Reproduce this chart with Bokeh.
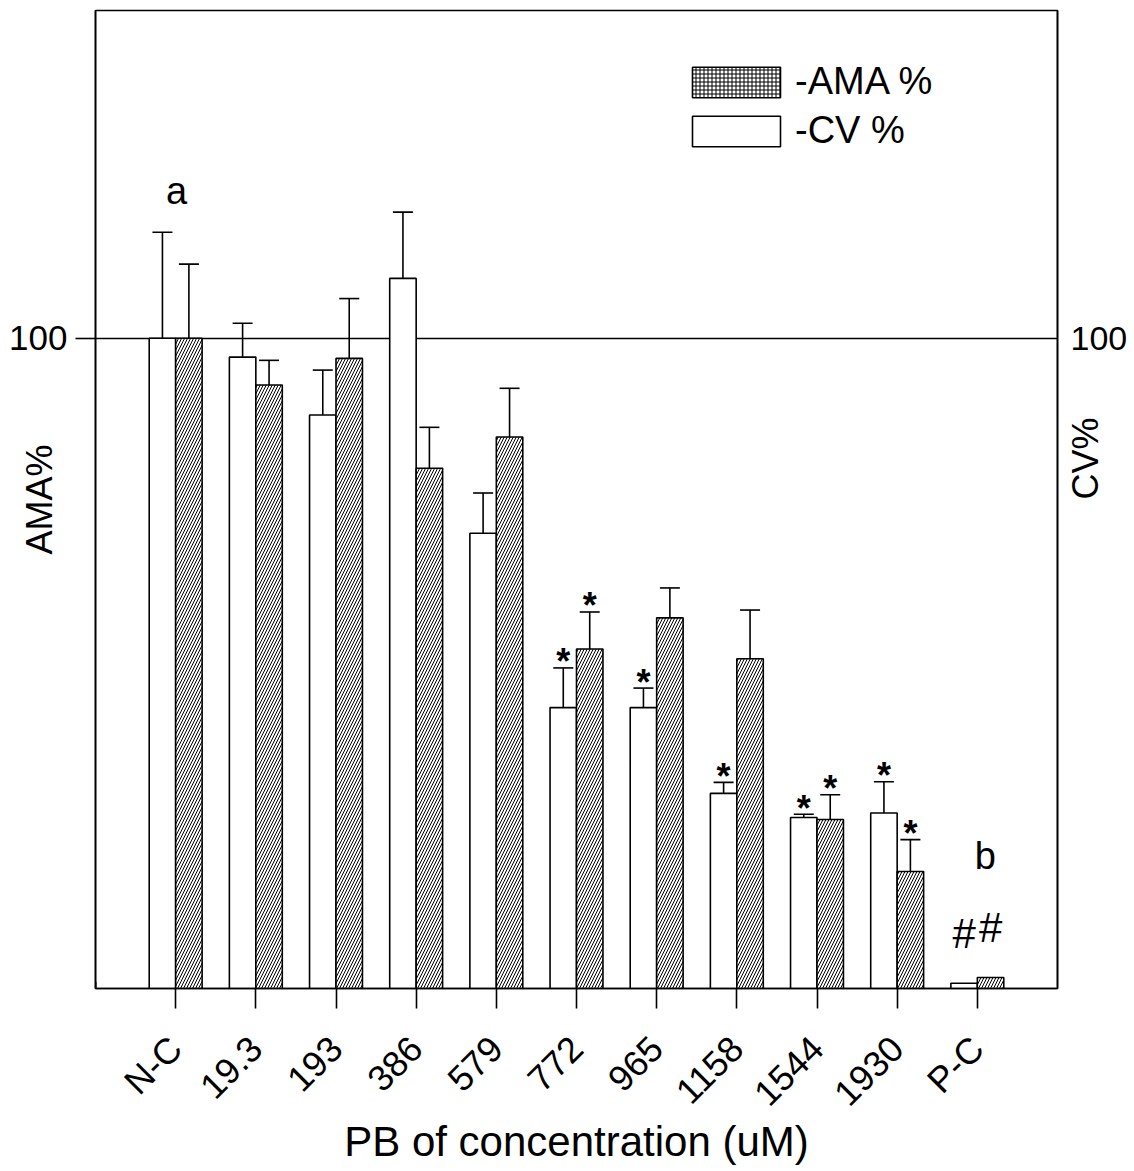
import math
import numpy as np
from bokeh.plotting import figure
from bokeh.models import (Range1d, FixedTicker, LinearAxis, Whisker, TeeHead,
                          ColumnDataSource, Label, Legend, LegendItem)
from bokeh.embed import file_html
from bokeh.resources import INLINE

# ---------------- data ----------------
categories = ["N-C", "19.3", "193", "386", "579", "772", "965", "1158", "1544", "1930", "P-C"]
cv_pct = [100.0, 97.1, 88.2, 109.2, 70.0, 43.2, 43.2, 30.0, 26.3, 27.0, 0.8]
cv_err = [16.3, 5.2, 6.9, 10.2, 6.2, 6.1, 3.0, 1.7, 0.5, 4.8, 0.0]
ama_pct = [100.0, 92.8, 96.9, 80.0, 84.8, 52.2, 57.0, 50.7, 26.0, 18.0, 1.7]
ama_err = [11.4, 3.8, 9.2, 6.3, 7.5, 5.7, 4.6, 7.5, 3.8, 4.9, 0.0]
cv_marks = ["", "", "", "", "", "*", "*", "*", "*", "*", "#"]
ama_marks = ["", "", "", "", "", "*", "", "", "*", "*", "#"]
y_ticks = [100]
legend_labels = ["-AMA %", "-CV %"]

FONT = "Liberation Sans"
BW = 0.33

pos = np.arange(1, len(categories) + 1, dtype=float)
cv = np.array(cv_pct)
cve = np.array(cv_err)
ama = np.array(ama_pct)
amae = np.array(ama_err)

p = figure(width=1130, height=1168, x_range=Range1d(0, 12), y_range=Range1d(0, 150.4),
           output_backend="svg", toolbar_location=None,
           min_border_left=95, min_border_right=73, min_border_top=10, min_border_bottom=179)
p.background_fill_color = "white"
p.border_fill_color = "white"
p.outline_line_color = "black"
p.outline_line_width = 1.6
p.xgrid.visible = False
p.ygrid.ticker = FixedTicker(ticks=y_ticks)
p.ygrid.grid_line_color = "black"
p.ygrid.grid_line_width = 1.6

# bars
p.vbar(x=pos - BW / 2, top=cv, width=BW, bottom=0, fill_color="white",
       line_color="black", line_width=1.6)
p.vbar(x=pos + BW / 2, top=ama, width=BW, bottom=0, fill_color="white",
       line_color="black", line_width=1.6, hatch_pattern="/", hatch_color="black",
       hatch_scale=6, hatch_weight=1.0)

# error bars (upper only)
for xs, vals, errs in ((pos - BW / 2, cv, cve), (pos + BW / 2, ama, amae)):
    m = errs > 0
    src = ColumnDataSource(dict(x=xs[m], lower=vals[m], upper=vals[m] + errs[m]))
    w = Whisker(source=src, base="x", lower="lower", upper="upper", dimension="height",
                lower_head=None,
                upper_head=TeeHead(size=20, line_color="black", line_width=1.6),
                line_color="black", line_width=1.6)
    p.add_layout(w)

# significance marks
for xs, vals, errs, marks in ((pos - BW / 2, cv, cve, cv_marks), (pos + BW / 2, ama, amae, ama_marks)):
    mk = np.array(marks)
    s = mk == "*"
    p.text(x=xs[s], y=(vals + errs)[s], text=list(mk[s]), text_align="center",
           text_baseline="alphabetic", y_offset=-6, text_font_size="36px",
           text_font={"value": FONT}, text_font_style="bold", text_color="black")
    h = mk == "#"
    p.text(x=xs[h], y=vals[h], text=list(mk[h]), text_align="center",
           text_baseline="alphabetic", y_offset=-50, text_font_size="42px",
           text_font={"value": FONT}, text_color="black")

# group letters
p.add_layout(Label(x=1.01, y=122.7, text="a", text_align="center", text_baseline="middle",
                   text_font_size="38px", text_font=FONT, text_color="black"))
p.add_layout(Label(x=11.1, y=20.3, text="b", text_align="center", text_baseline="middle",
                   text_font_size="38px", text_font=FONT, text_color="black"))

# x axis
xa = p.xaxis[0]
xa.ticker = FixedTicker(ticks=list(pos))
xa.major_label_overrides = {i + 1: c for i, c in enumerate(categories)}
xa.major_label_orientation = math.pi / 4
xa.major_label_text_font = FONT
xa.major_label_text_font_size = "36px"
xa.major_label_text_color = "black"
xa.major_label_standoff = 34
xa.major_tick_out = 20
xa.major_tick_in = 0
xa.minor_tick_line_color = None
xa.axis_line_color = "black"
xa.axis_line_width = 1.6
xa.major_tick_line_width = 1.6
xa.axis_label = "PB of concentration (uM)"
xa.axis_label_text_font = FONT
xa.axis_label_text_font_size = "42px"
xa.axis_label_text_font_style = "normal"
xa.axis_label_text_color = "black"
xa.axis_label_standoff = -13

# left axis
ya = p.yaxis[0]
ya.ticker = FixedTicker(ticks=y_ticks)
ya.major_label_text_font = FONT
ya.major_label_text_font_size = "35px"
ya.major_label_text_color = "black"
ya.major_label_standoff = 8
ya.major_tick_out = 20
ya.major_tick_in = 0
ya.major_tick_line_width = 1.6
ya.minor_tick_line_color = None
ya.axis_line_color = "black"
ya.axis_line_width = 1.6
ya.axis_label = "AMA%"
ya.axis_label_text_font = FONT
ya.axis_label_text_font_size = "36px"
ya.axis_label_text_font_style = "normal"
ya.axis_label_text_color = "black"
ya.axis_label_standoff = -54

# right axis
ra = LinearAxis(ticker=FixedTicker(ticks=y_ticks))
ra.major_label_text_font = FONT
ra.major_label_text_font_size = "34px"
ra.major_label_text_color = "black"
ra.major_label_standoff = 13
ra.major_tick_out = 0
ra.major_tick_in = 0
ra.minor_tick_line_color = None
ra.axis_line_color = "black"
ra.axis_line_width = 1.6
ra.axis_label = "CV%"
ra.axis_label_text_font = FONT
ra.axis_label_text_font_size = "36px"
ra.axis_label_text_font_style = "normal"
ra.axis_label_text_color = "black"
ra.axis_label_standoff = -45
if "axis_label_orientation" in ra.properties():
    ra.axis_label_orientation = math.pi / 2
p.add_layout(ra, "right")

# legend (sample renderers kept outside the visible range)
r_ama = p.vbar(x=[-100], top=[1], width=0.3, fill_color="white", line_color="black",
               line_width=1.6, hatch_pattern="+", hatch_color="black", hatch_scale=4,
               hatch_weight=1.0)
r_cv = p.vbar(x=[-100], top=[1], width=0.3, fill_color="white", line_color="black",
              line_width=1.6)
leg = Legend(items=[LegendItem(label=legend_labels[0], renderers=[r_ama]),
                    LegendItem(label=legend_labels[1], renderers=[r_cv])],
             location=(586, 836), glyph_width=110, glyph_height=38, label_height=38,
             label_text_font=FONT, label_text_font_size="38px", label_text_color="black",
             label_standoff=4, spacing=6, padding=0, margin=0,
             border_line_color=None, background_fill_alpha=0)
p.add_layout(leg)

open("out.html", "w").write(file_html(p, INLINE))
